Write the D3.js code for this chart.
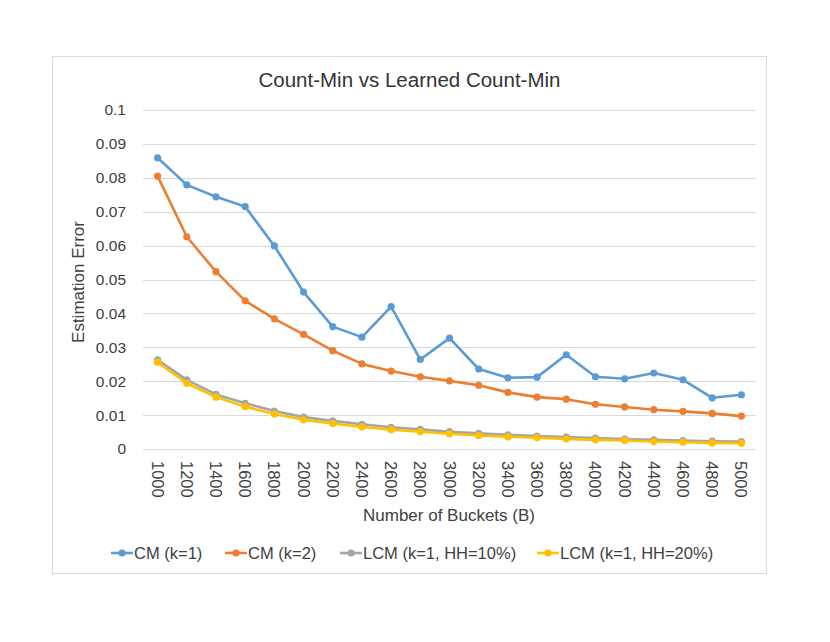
<!DOCTYPE html>
<html><head><meta charset="utf-8">
<script src="https://cdn.jsdelivr.net/npm/d3@7"></script>
<style>body{margin:0;background:#fff;} text{font-family:"Liberation Sans",Arial,sans-serif;fill:#404040;}</style>
</head><body>
<svg id="c" width="830" height="642"></svg>
<script>
const buckets = [1000,1200,1400,1600,1800,2000,2200,2400,2600,2800,3000,3200,3400,3600,3800,4000,4200,4400,4600,4800,5000];
const cmK1 = [0.0859,0.0779,0.0744,0.0715,0.0599,0.0463,0.0361,0.0330,0.0420,0.0264,0.0327,0.0236,0.0210,0.0212,0.0278,0.0213,0.0207,0.0224,0.0204,0.0151,0.0160];
const cmK2 = [0.0805,0.0626,0.0523,0.0437,0.0384,0.0338,0.0290,0.0251,0.0230,0.0213,0.0201,0.0188,0.0167,0.0153,0.0147,0.0132,0.0124,0.0116,0.0111,0.0105,0.0097];
const lcm10 = [0.0263,0.0204,0.0161,0.0135,0.0112,0.0094,0.0083,0.0073,0.0064,0.0058,0.0051,0.0046,0.0042,0.0038,0.0035,0.0032,0.0029,0.0027,0.0025,0.0023,0.0022];
const lcm20 = [0.0256,0.0194,0.0153,0.0125,0.0103,0.0086,0.0075,0.0065,0.0057,0.0051,0.0045,0.0040,0.0036,0.0033,0.0030,0.0027,0.0025,0.0022,0.0020,0.0018,0.0017];
const seriesNames = ["CM (k=1)","CM (k=2)","LCM (k=1, HH=10%)","LCM (k=1, HH=20%)"];
const seriesColors = ["#5b9bd5","#ed7d31","#a5a5a5","#ffc000"];
const yTicks = [0,0.01,0.02,0.03,0.04,0.05,0.06,0.07,0.08,0.09,0.1];
const title = "Count-Min vs Learned Count-Min";
const xTitle = "Number of Buckets (B)";
const yTitle = "Estimation Error";

const svg = d3.select("#c");
svg.append("rect").attr("x",52.5).attr("y",56.5).attr("width",714).attr("height",517)
  .attr("fill","#fff").attr("stroke","#d9d9d9").attr("stroke-width",1);

const x = d3.scaleBand().domain(buckets).range([143,756]);
const y = d3.scaleLinear().domain([0,0.1]).range([449,110]);

// gridlines
svg.append("g").selectAll("line").data(yTicks).join("line")
  .attr("x1",143).attr("x2",756).attr("y1",d=>Math.round(y(d))+0.5).attr("y2",d=>Math.round(y(d))+0.5)
  .attr("stroke","#d9d9d9").attr("stroke-width",1);

// y axis labels
const yAxis = d3.axisLeft(y).tickValues(yTicks).tickSize(0).tickPadding(17).tickFormat(d=>String(+d.toFixed(2)));
const gy = svg.append("g").attr("transform","translate(143,0)").call(yAxis);
gy.select(".domain").remove();
gy.selectAll("text").attr("font-size",15.5).style("fill","#404040").attr("font-family","Liberation Sans, Arial, sans-serif");

// x axis labels
const xAxis = d3.axisBottom(x).tickSize(0).tickPadding(0);
const gx = svg.append("g").attr("transform","translate(0,449)").call(xAxis);
gx.select(".domain").remove();
gx.selectAll("text")
  .attr("font-size",16.5).style("fill","#404040").attr("font-family","Liberation Sans, Arial, sans-serif")
  .attr("text-anchor","start").attr("dy",null).attr("y",null)
  .attr("transform","translate(-6,12) rotate(90)")
  .attr("dominant-baseline","auto");

// lines
const all = [cmK1,cmK2,lcm10,lcm20];
const line = d3.line().x((d,i)=>x(buckets[i])+x.bandwidth()/2).y(d=>y(d));
all.forEach((vals,si)=>{
  const g = svg.append("g");
  g.append("path").attr("d",line(vals)).attr("fill","none").attr("stroke",seriesColors[si])
    .attr("stroke-width",2.6).attr("stroke-linejoin","round").attr("stroke-linecap","round");
  g.selectAll("circle").data(vals).join("circle")
    .attr("cx",(d,i)=>x(buckets[i])+x.bandwidth()/2).attr("cy",d=>y(d)).attr("r",3.6)
    .attr("fill",seriesColors[si]);
});

// titles
svg.append("text").attr("x",409.5).attr("y",87).attr("text-anchor","middle")
  .attr("font-size",20.5).text(title).style("fill","#333");
svg.append("text").attr("x",449).attr("y",521).attr("text-anchor","middle")
  .attr("font-size",17).text(xTitle);
svg.append("text").attr("transform","translate(84,282) rotate(-90)").attr("text-anchor","middle")
  .attr("font-size",17).text(yTitle);

// legend
const legX = [111,225,340,537];
const lg = svg.append("g");
seriesNames.forEach((n,i)=>{
  const gg = lg.append("g");
  gg.append("line").attr("x1",legX[i]).attr("x2",legX[i]+22).attr("y1",553).attr("y2",553)
    .attr("stroke",seriesColors[i]).attr("stroke-width",2.6);
  gg.append("circle").attr("cx",legX[i]+11).attr("cy",553).attr("r",3.6).attr("fill",seriesColors[i]);
  gg.append("text").attr("x",legX[i]+23).attr("y",559).attr("font-size",16.5).text(n);
});
</script>
</body></html>
